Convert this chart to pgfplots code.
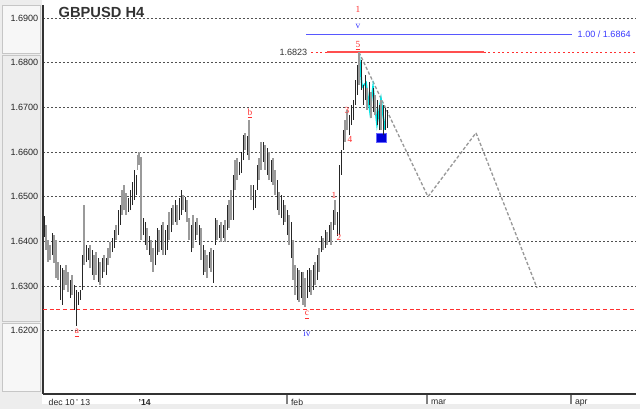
\documentclass[border=0pt]{standalone}
\usepackage{pgfplots}
\pgfplotsset{compat=1.18}
\usepackage{pgfplotstable}
\usepackage{fontspec}
\setmainfont{Liberation Sans}
\newfontfamily\serifl{Liberation Serif}
\definecolor{barg}{HTML}{9A9A9A}
\definecolor{gridc}{HTML}{505050}
\definecolor{lblred}{HTML}{FF3030}
\definecolor{lblblue}{HTML}{3A3AFF}
\definecolor{panel}{HTML}{EDEDED}
\definecolor{cyanw}{HTML}{00E5E5}
\definecolor{projg}{HTML}{999999}

% black bars: x high low
\pgfplotstableread{
x h l
44 1.6457 1.6410
52 1.6419 1.6370
60 1.6347 1.6269
62 1.6340 1.6258
70 1.6314 1.6273
74 1.6302 1.6247
76 1.6291 1.6211
78 1.6287 1.6258
80 1.6291 1.6269
82 1.6370 1.6291
86 1.6392 1.6354
88 1.6385 1.6358
92 1.6381 1.6325
98 1.6363 1.6309
102 1.6363 1.6318
106 1.6363 1.6325
112 1.6408 1.6376
114 1.6426 1.6385
118 1.6470 1.6414
120 1.6481 1.6437
128 1.6497 1.6466
130 1.6515 1.6470
132 1.6533 1.6481
134 1.6560 1.6493
136 1.6549 1.6504
143 1.6452 1.6414
145 1.6443 1.6392
149 1.6412 1.6370
155 1.6403 1.6347
157 1.6430 1.6370
161 1.6437 1.6381
165 1.6426 1.6370
167 1.6437 1.6381
171 1.6475 1.6421
175 1.6493 1.6443
179 1.6497 1.6448
181 1.6515 1.6459
185 1.6499 1.6466
191 1.6437 1.6376
195 1.6443 1.6403
199 1.6437 1.6392
203 1.6392 1.6325
209 1.6376 1.6340
213 1.6381 1.6307
215 1.6452 1.6392
219 1.6437 1.6408
223 1.6437 1.6408
227 1.6481 1.6426
233 1.6549 1.6448
239 1.6578 1.6549
241 1.6600 1.6553
243 1.6638 1.6582
247 1.6636 1.6593
253 1.6526 1.6470
255 1.6515 1.6475
257 1.6571 1.6515
263 1.6622 1.6578
267 1.6609 1.6549
271 1.6582 1.6533
277 1.6537 1.6470
281 1.6504 1.6452
283 1.6493 1.6437
287 1.6470 1.6414
291 1.6443 1.6363
297 1.6340 1.6269
301 1.6332 1.6273
307 1.6336 1.6273
309 1.6340 1.6287
313 1.6347 1.6291
317 1.6370 1.6314
321 1.6412 1.6376
325 1.6426 1.6385
329 1.6437 1.6399
333 1.6470 1.6426
337 1.6466 1.6412
339 1.6571 1.6414
341 1.6605 1.6549
343 1.6649 1.6605
349 1.6683 1.6638
351 1.6705 1.6660
353 1.6716 1.6672
355 1.6761 1.6705
357 1.6795 1.6728
361 1.6806 1.6739
363 1.6750 1.6705
365 1.6772 1.6716
369 1.6757 1.6705
373 1.6743 1.6690
377 1.6716 1.6660
379 1.6705 1.6649
383 1.6705 1.6638
385 1.6698 1.6649
387 1.6694 1.6654
}\barsK

% grey bars: x high low
\pgfplotstableread{
x h l
46 1.6437 1.6381
48 1.6403 1.6354
50 1.6392 1.6358
54 1.6414 1.6352
56 1.6403 1.6318
58 1.6354 1.6314
64 1.6336 1.6291
66 1.6347 1.6302
68 1.6332 1.6287
72 1.6325 1.6280
84 1.6481 1.6347
90 1.6392 1.6340
94 1.6370 1.6314
96 1.6376 1.6325
100 1.6354 1.6302
104 1.6370 1.6332
108 1.6385 1.6347
110 1.6399 1.6363
116 1.6437 1.6403
122 1.6515 1.6459
124 1.6526 1.6470
126 1.6508 1.6459
137.5 1.6593 1.6560
139 1.6600 1.6571
141 1.6589 1.6403
147 1.6430 1.6381
151 1.6403 1.6354
153 1.6385 1.6332
159 1.6426 1.6376
163 1.6443 1.6370
169 1.6466 1.6403
173 1.6481 1.6437
177 1.6481 1.6437
183 1.6504 1.6470
187 1.6493 1.6443
189 1.6452 1.6403
193 1.6459 1.6385
197 1.6452 1.6414
201 1.6430 1.6358
205 1.6381 1.6332
207 1.6370 1.6318
211 1.6385 1.6332
217 1.6448 1.6403
221 1.6443 1.6399
225 1.6448 1.6399
229 1.6493 1.6430
231 1.6515 1.6448
235 1.6582 1.6515
237 1.6587 1.6537
245 1.6642 1.6605
249 1.6672 1.6582
251 1.6526 1.6493
259 1.6587 1.6537
261 1.6622 1.6560
265 1.6616 1.6560
269 1.6600 1.6537
273 1.6587 1.6526
275 1.6560 1.6504
279 1.6510 1.6459
285 1.6481 1.6443
289 1.6459 1.6392
293 1.6403 1.6314
295 1.6347 1.6280
299 1.6336 1.6264
303 1.6332 1.6258
305 1.6318 1.6253
311 1.6336 1.6280
315 1.6354 1.6302
319 1.6385 1.6332
323 1.6408 1.6381
327 1.6421 1.6392
331 1.6443 1.6392
335 1.6493 1.6437
345 1.6672 1.6622
347 1.6694 1.6649
359 1.6824 1.6750
367 1.6743 1.6694
371 1.6734 1.6676
375 1.6728 1.6683
381 1.6716 1.6649
}\barsG

\begin{document}
\begin{tikzpicture}
% background panels (units: 0.75pt = 1px)
\fill[white] (0pt,0pt) rectangle (480pt,306.75pt);
\fill[panel] (0pt,0pt) rectangle (31.5pt,306.75pt);
\draw[gray!45, fill=gray!6] (2pt,267pt) rectangle (30pt,303pt);
\draw[gray!45, fill=panel] (2pt,66pt) rectangle (30pt,265.5pt);
\draw[gray!45, fill=gray!6] (2pt,13pt) rectangle (30pt,64.5pt);
\fill[gray!14] (0pt,0pt) rectangle (480pt,3.5pt);
\path[use as bounding box] (0pt,0pt) rectangle (480pt,306.75pt);
\begin{axis}[
  at={(32.25pt,11.25pt)}, anchor=south west,
  scale only axis, width=444.75pt, height=291.75pt,
  xmin=43, xmax=636, ymin=1.60586, ymax=1.69290,
  axis x line*=bottom, axis y line*=left,
  axis line style={black!80, line width=1pt},
  ytick={1.62,1.63,1.64,1.65,1.66,1.67,1.68,1.69},
  ymajorgrids,
  grid style={gridc, dash pattern=on 1.6pt off 1.4pt, line width=0.5pt},
  ytick style={draw=none},
  yticklabel style={font=\fontsize{6.8}{8}\selectfont, text=black!85,
    /pgf/number format/fixed, /pgf/number format/fixed zerofill,
    /pgf/number format/precision=4, /pgf/number format/assume math mode=true,
    xshift=7.5pt},
  xtick={287,427,571},
  xticklabels={feb,mar,apr},
  xtick style={draw=gray, line width=0.9pt},
  major tick length=7.5pt, tick align=outside,
  xticklabel style={anchor=north west, font=\fontsize{6.5}{7.5}\selectfont, text=black!85, xshift=-0.5pt, yshift=7pt},
  extra x ticks={46,136},
  extra x tick labels={dec 10\,' 13, \textbf{'14}},
  extra x tick style={major tick length=0pt, xtick style={draw=none},
     xticklabel style={anchor=north west, yshift=-7.5pt, xshift=-1pt}},
  clip=false,
]
% horizontal level lines
\addplot[lblred, densely dashed, line width=0.6pt] coordinates {(43,1.6247) (636,1.6247)};
\addplot[lblred, dash pattern=on 1.5pt off 2pt, line width=0.5pt] coordinates {(311,1.6823) (636,1.6823)};
\addplot[lblred!85, line width=1.6pt] coordinates {(327,1.6823) (484,1.6823)};
\addplot[lblblue!85, line width=0.8pt] coordinates {(306,1.6864) (572,1.6864)};
% projected path
\addplot[projg, dash pattern=on 2.5pt off 1.5pt, line width=1pt] coordinates {(359,1.6823) (428,1.6500) (476,1.6643) (537,1.6296)};
% cyan sub-wave
\addplot[cyanw, line width=1.3pt] coordinates {(359,1.6823) (362,1.6745) (366,1.6755) (370,1.6690) (373,1.6745) (377,1.6662) (381,1.6718) (385,1.6650)};
% blue box
\addplot[fill=blue!85!black, draw=blue!60] coordinates {(376,1.6643) (386,1.6643) (386,1.6621) (376,1.6621)} -- cycle;
% grey bars
\addplot[no markers, draw=none, error bars/.cd, y dir=plus, y explicit,
  error mark=none, error bar style={draw=barg, line width=1.2pt}]
  table[x=x, y=l, y error plus expr=\thisrow{h}-\thisrow{l}] {\barsG};
% black bars
\addplot[no markers, draw=none, error bars/.cd, y dir=plus, y explicit,
  error mark=none, error bar style={draw=black!85, line width=0.6pt}]
  table[x=x, y=l, y error plus expr=\thisrow{h}-\thisrow{l}] {\barsK};
% labels
\node[text=black!80, font=\fontsize{11}{12}\selectfont\bfseries, anchor=west] at (axis cs:54,1.6912) {GBPUSD H4};
\node[text=black!80, font=\fontsize{6.8}{8}\selectfont, anchor=east] at (axis cs:312,1.6823) {1.6823};
\node[text=lblblue, font=\fontsize{6.8}{8}\selectfont, anchor=west] at (axis cs:573,1.6864) {1.00 / 1.6864};
\tikzset{lr/.style={text=lblred, font=\serifl\fontsize{7}{8}\selectfont, inner sep=0.5pt}}
\tikzset{lb/.style={text=lblblue, font=\serifl\fontsize{7}{8}\selectfont, inner sep=0.5pt}}
\node[lr] at (axis cs:358,1.6918) {1};
\node[lb] at (axis cs:358,1.6880) {v};
\node[lr] at (axis cs:358,1.6837) {\underline{5}};
\node[lr] at (axis cs:250,1.6687) {\underline{b}};
\node[lr] at (axis cs:77,1.6195) {\underline{a}};
\node[lr] at (axis cs:307,1.6235) {\underline{c}};
\node[lb] at (axis cs:307,1.6195) {iv};
\node[lr] at (axis cs:347,1.6692) {3};
\node[lr] at (axis cs:350,1.6629) {4};
\node[lr] at (axis cs:334,1.6502) {1};
\node[lr] at (axis cs:339,1.6408) {2};
\end{axis}
\end{tikzpicture}
\end{document}
